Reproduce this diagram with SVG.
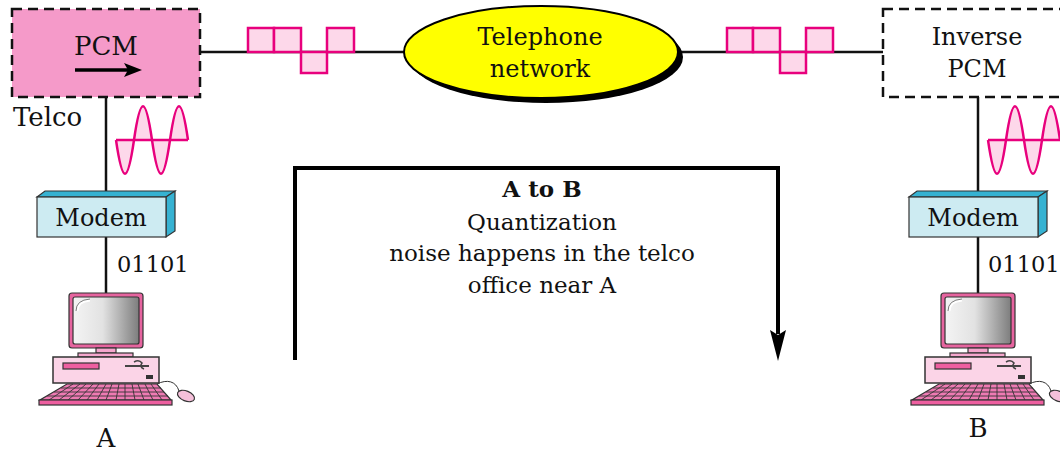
<svg xmlns="http://www.w3.org/2000/svg" xmlns:xlink="http://www.w3.org/1999/xlink" width="1060" height="452" viewBox="0 0 1060 452">
  <style>
    .txt { font-family: "DejaVu Serif", "Liberation Serif", serif; font-size: 24px; fill: #111; }
    .note { font-size: 23px; }
    .bits { font-size: 22.5px; }
    .big { font-size: 26px; }
    .mid { text-anchor: middle; }
    .bold { font-weight: bold; }
    .dash { stroke: #111; stroke-width: 2.5; stroke-dasharray: 10 6; }
    .wire { stroke: #111; stroke-width: 2.5; fill: none; }
    .sig { fill: #fdd8ea; stroke: #e8007d; stroke-width: 2.5; }
    .sigline { stroke: #e8007d; stroke-width: 2.5; fill: none; }
    .ol { stroke: #333; stroke-width: 1.2; }
    .path { stroke: #000; stroke-width: 4; fill: none; }
  </style>
  <defs>
    <linearGradient id="screenGrad" x1="0" y1="0" x2="1" y2="0">
      <stop offset="0" stop-color="#f4f4f4"/>
      <stop offset="0.45" stop-color="#e2e2e2"/>
      <stop offset="1" stop-color="#7d7d7d"/>
    </linearGradient>
    <!-- modem box: front face, top and right side -->
    <g id="modemShape">
      <polygon points="37,197 45,191 175,191 166,197" fill="#36b2d2" class="ol"/>
      <polygon points="166,197 175,191 175,231 166,237" fill="#36b2d2" class="ol"/>
      <rect x="37" y="197" width="129" height="40" fill="#cdebf2" class="ol"/>
      <text x="101" y="226" class="txt mid">Modem</text>
    </g>
    <!-- desktop computer: monitor, case, keyboard, mouse -->
    <g id="pc">
      <rect x="69" y="293" width="74" height="55" rx="3" fill="#e6649f" class="ol"/>
      <rect x="73" y="297" width="66" height="47" rx="2" fill="url(#screenGrad)" class="ol"/>
      <path d="M77,311 Q77,301 90,300" stroke="#fff" stroke-width="3" fill="none"/>
      <path d="M76,311 Q76,300 90,299" stroke="#777" stroke-width="1" fill="none"/>
      <rect x="96" y="348" width="20" height="5" fill="#f5a6cd" class="ol"/>
      <rect x="78" y="353" width="55" height="4" fill="#f5a6cd" class="ol"/>
      <rect x="53" y="357" width="106" height="26" fill="#fbd4e7" stroke="#333" stroke-width="1.5"/>
      <rect x="63" y="363" width="36" height="6" fill="#ee5fa0" class="ol"/>
      <path d="M125,366 H149" stroke="#444" stroke-width="2"/>
      <path d="M134,362 Q139,359 142,363 Q139,367 144,369" stroke="#444" stroke-width="1.5" fill="none"/>
      <rect x="146" y="375" width="7" height="4" fill="#333"/>
      <path d="M157,384 C167,379 176,381 179,391" stroke="#333" stroke-width="1" fill="none"/>
      <ellipse cx="186" cy="396" rx="9" ry="5" transform="rotate(22 186 396)" fill="#f5c0da" class="ol"/>
      <polygon points="67,384 157,384 171,400 40,400" fill="#ee7ab3" class="ol"/>
      <g stroke="#333" stroke-width="0.9">
        <line x1="61" y1="388" x2="161" y2="388"/>
        <line x1="54" y1="392" x2="164" y2="392"/>
        <line x1="47" y1="396" x2="168" y2="396"/>
        <line x1="73" y1="384" x2="49" y2="400"/>
        <line x1="80" y1="384" x2="59" y2="400"/>
        <line x1="86" y1="384" x2="68" y2="400"/>
        <line x1="93" y1="384" x2="78" y2="400"/>
        <line x1="99" y1="384" x2="87" y2="400"/>
        <line x1="106" y1="384" x2="97" y2="400"/>
        <line x1="112" y1="384" x2="106" y2="400"/>
        <line x1="119" y1="384" x2="116" y2="400"/>
        <line x1="125" y1="384" x2="125" y2="400"/>
        <line x1="132" y1="384" x2="135" y2="400"/>
        <line x1="138" y1="384" x2="144" y2="400"/>
        <line x1="145" y1="384" x2="153" y2="400"/>
        <line x1="151" y1="384" x2="162" y2="400"/>
      </g>
      <rect x="39" y="400" width="133" height="5" fill="#ee5fa0" class="ol"/>
    </g>
    <!-- analog signal glyph -->
    <g id="sine">
      <path d="M116,140 C122.5,185 127.5,185 134,140 C140.5,95 145.5,95 152,140 C158.5,185 163.5,185 170,140 C176.5,95 181.5,95 188,140" class="sig"/>
      <line x1="116" y1="140" x2="188" y2="140" class="sigline"/>
    </g>
    <!-- digital pulse glyph -->
    <g id="pulses">
      <rect x="0" y="28" width="26" height="24" class="sig"/>
      <rect x="26" y="28" width="27" height="24" class="sig"/>
      <rect x="53" y="52" width="26" height="21" class="sig"/>
      <rect x="79" y="28" width="27" height="24" class="sig"/>
    </g>
  </defs>

  <!-- connectors -->
  <g id="connectors">
    <line x1="200" y1="52" x2="405" y2="52" class="wire"/>
    <line x1="678" y1="52" x2="883" y2="52" class="wire"/>
    <line x1="106" y1="97" x2="106" y2="191" class="wire"/>
    <line x1="106" y1="237" x2="106" y2="293" class="wire"/>
    <line x1="978" y1="97" x2="978" y2="191" class="wire"/>
    <line x1="978" y1="237" x2="978" y2="293" class="wire"/>
    <use xlink:href="#pulses" transform="translate(248 0)"/>
    <use xlink:href="#pulses" transform="translate(727 0)"/>
    <use xlink:href="#sine"/>
    <use xlink:href="#sine" transform="translate(872 0)"/>
  </g>

  <!-- transmission path A to B -->
  <g id="flow">
    <path d="M295,360 V168 H778 V334" class="path"/>
    <path d="M778,361 L770,330 L778,335 L786,330 Z" fill="#000"/>
    <text x="542" y="197" class="txt note mid bold">A to B</text>
    <text x="542" y="230" class="txt note mid">Quantization</text>
    <text x="542" y="261" class="txt note mid">noise happens in the telco</text>
    <text x="542" y="293" class="txt note mid">office near A</text>
  </g>

  <g id="pcm">
    <rect x="12" y="9" width="188" height="88" fill="#f59ac9" class="dash"/>
    <text x="106" y="55" class="txt big mid">PCM</text>
    <line x1="75" y1="70" x2="130" y2="70" stroke="#000" stroke-width="3.5"/>
    <path d="M142,70 L124,63 L128,70 L124,77 Z" fill="#000"/>
    <text x="13" y="126" class="txt big">Telco</text>
  </g>

  <g id="network">
    <ellipse cx="546" cy="57" rx="137" ry="46" fill="#000"/>
    <ellipse cx="541" cy="52" rx="137" ry="46" fill="#ffff00" stroke="#000" stroke-width="2"/>
    <text x="540" y="45" class="txt mid">Telephone</text>
    <text x="540" y="77" class="txt mid">network</text>
  </g>

  <g id="inverse-pcm">
    <rect x="883" y="9" width="188" height="88" fill="#fff" class="dash"/>
    <text x="977" y="45" class="txt mid">Inverse</text>
    <text x="977" y="77" class="txt mid">PCM</text>
  </g>

  <g id="modem-a">
    <use xlink:href="#modemShape"/>
    <text x="117" y="272" class="txt bits">01101</text>
  </g>
  <g id="modem-b">
    <use xlink:href="#modemShape" transform="translate(872 0)"/>
    <text x="988" y="272" class="txt bits">01101</text>
  </g>

  <g id="computer-a">
    <use xlink:href="#pc"/>
    <text x="106" y="447" class="txt big mid">A</text>
  </g>
  <g id="computer-b">
    <use xlink:href="#pc" transform="translate(872 0)"/>
    <text x="978" y="437" class="txt big mid">B</text>
  </g>
</svg>
